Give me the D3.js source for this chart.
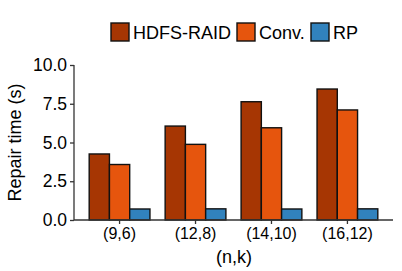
<!DOCTYPE html>
<html>
<head>
<meta charset="utf-8">
<script src="https://cdn.jsdelivr.net/npm/d3@7"></script>
<style>
  body { margin: 0; background: #fff; }
  text { font-family: "Liberation Sans", Arial, sans-serif; fill: #000; }
</style>
</head>
<body>
<svg id="chart" width="402" height="271"></svg>
<script>
// codes on the x axis
var codes = ["(9,6)", "(12,8)", "(14,10)", "(16,12)"];
var schemes = ["HDFS-RAID", "Conv.", "RP"];
var colors = ["#A63603", "#E6550D", "#3182BD"];
// repair time in seconds
var hdfsRaid = [4.26, 6.06, 7.63, 8.45];
var conv = [3.58, 4.88, 5.95, 7.1];
var rp = [0.71, 0.72, 0.71, 0.72];
var yTicks = [0, 2.5, 5, 7.5, 10];

var svg = d3.select("#chart");
var mLeft = 74, mRight = 393, mTop = 65, mBottom = 220;

var x = d3.scaleBand().domain(codes).range([mLeft, mRight]).paddingInner(0.2).paddingOuter(0.2);
var xs = d3.scaleBand().domain(schemes).range([0, x.bandwidth()]);
var y = d3.scaleLinear().domain([0, 10]).range([mBottom, mTop]);

var rows = codes.map(function(c, i) {
  return { code: c, vals: [hdfsRaid[i], conv[i], rp[i]] };
});

var g = svg.selectAll(".grp").data(rows).enter().append("g")
  .attr("transform", function(d) { return "translate(" + x(d.code) + ",0)"; });
g.selectAll("rect").data(function(d) { return d.vals; }).enter().append("rect")
  .attr("x", function(d, i) { return xs(schemes[i]); })
  .attr("width", xs.bandwidth())
  .attr("y", function(d) { return y(d); })
  .attr("height", function(d) { return mBottom - y(d); })
  .attr("fill", function(d, i) { return colors[i]; })
  .attr("stroke", "#111").attr("stroke-width", 1.4);

// axes
var yAxis = svg.append("g").attr("transform", "translate(" + mLeft + ",0)")
  .call(d3.axisLeft(y).tickValues(yTicks).tickSize(4).tickPadding(3).tickFormat(d3.format(".1f")));
var xAxis = svg.append("g").attr("transform", "translate(0," + mBottom + ")")
  .call(d3.axisBottom(x).tickSize(4).tickPadding(4).tickSizeOuter(0));
xAxis.select(".domain").attr("d", "M" + mLeft + ",0H" + mRight);
yAxis.select(".domain").attr("d", "M0," + mTop + "V" + mBottom);
svg.selectAll(".domain, .tick line").attr("stroke", "#333").attr("stroke-width", 1.3);
yAxis.selectAll("text").style("font-size", "17.5px").attr("fill", "#000");
xAxis.selectAll("text").style("font-size", "16px").attr("fill", "#000");

svg.append("text").attr("transform", "translate(21," + ((mTop + mBottom) / 2) + ") rotate(-90)")
  .attr("text-anchor", "middle").style("font-size", "18px").text("Repair time (s)");
svg.append("text").attr("x", mLeft + (mRight - mLeft) / 2 + 0.5).attr("y", 263)
  .attr("text-anchor", "middle").style("font-size", "18px").text("(n,k)");

// legend
var legendX = [111, 237, 311];
var legend = svg.selectAll(".leg").data(schemes).enter().append("g")
  .attr("transform", function(d, i) { return "translate(" + legendX[i] + ",23)"; });
legend.append("rect").attr("width", 18).attr("height", 18)
  .attr("fill", function(d, i) { return colors[i]; })
  .attr("stroke", "#111").attr("stroke-width", 1.4);
legend.append("text").attr("x", 22).attr("y", 16).style("font-size", "18px").text(function(d) { return d; });
</script>
</body>
</html>
